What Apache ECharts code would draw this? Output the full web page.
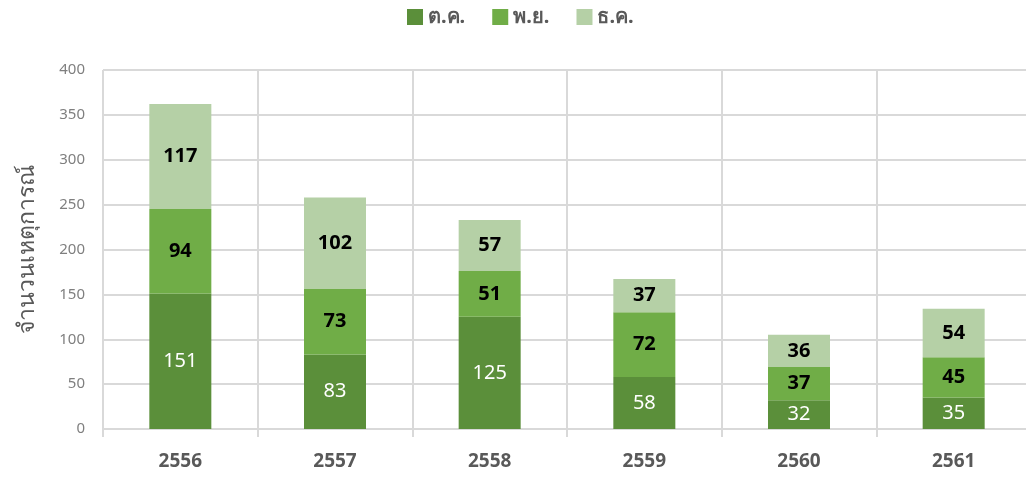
<!DOCTYPE html>
<html>
<head>
<meta charset="utf-8">
<script src="https://cdn.jsdelivr.net/npm/echarts@6/dist/echarts.min.js"></script>
<style>html,body{margin:0;padding:0;background:#fff}#c{width:1026px;height:477px}</style>
</head>
<body>
<div id="c"></div>
<script>
const categories = ['2556','2557','2558','2559','2560','2561'];
const seriesNames = ['ต.ค.','พ.ย.','ธ.ค.'];
const octValues = [151, 83, 125, 58, 32, 35];
const novValues = [94, 73, 51, 72, 37, 45];
const decValues = [117, 102, 57, 37, 36, 54];
const yTicks = [0, 50, 100, 150, 200, 250, 300, 350, 400];
const yAxisTitle = 'จำนวนเหตุการณ์';

const colors = ['#5B8F3A', '#70AD47', '#B5D0A6'];
const font = '"Noto Sans", sans-serif';
const chart = echarts.init(document.getElementById('c'));
const values = [octValues, novValues, decValues];
chart.setOption({
  animation: false,
  textStyle: { fontFamily: font },
  legend: {
    top: 2, left: 402, itemWidth: 16, itemHeight: 16, itemGap: 27, icon: 'rect',
    textStyle: { fontSize: 20, fontWeight: 'bold', color: '#595959', fontFamily: font },
    data: seriesNames
  },
  grid: { left: 103, right: -5, top: 70, bottom: 48, containLabel: false, outerBoundsMode: 'none' },
  xAxis: {
    type: 'category', data: categories, boundaryGap: true,
    axisLine: { show: true, lineStyle: { color: '#D9D9D9', width: 1 } },
    axisTick: { show: true, length: 8, lineStyle: { color: '#D9D9D9', width: 2 } },
    splitLine: { show: true, lineStyle: { color: '#D9D9D9', width: 2 } },
    axisLabel: { fontSize: 19, fontWeight: 'bold', color: '#595959', margin: 23 }
  },
  yAxis: {
    type: 'value', min: yTicks[0], max: yTicks[yTicks.length - 1], interval: 50,
    name: yAxisTitle, nameLocation: 'middle', nameGap: 64, nameRotate: 90,
    nameTextStyle: { fontSize: 23, color: '#595959' },
    axisLine: { show: false }, axisTick: { show: false },
    splitLine: { lineStyle: { color: '#D9D9D9', width: 2 } },
    axisLabel: { fontSize: 15, color: '#7F7F7F', margin: 18 }
  },
  series: values.map((v, i) => ({
    name: seriesNames[i], type: 'bar', stack: 'total', data: v, barWidth: 62,
    itemStyle: { color: colors[i] },
    label: {
      show: true, position: 'inside', fontSize: 20,
      color: i === 0 ? '#FFFFFF' : '#000000',
      fontWeight: i === 0 ? 'normal' : 'bold'
    }
  }))
});
</script>
</body>
</html>
